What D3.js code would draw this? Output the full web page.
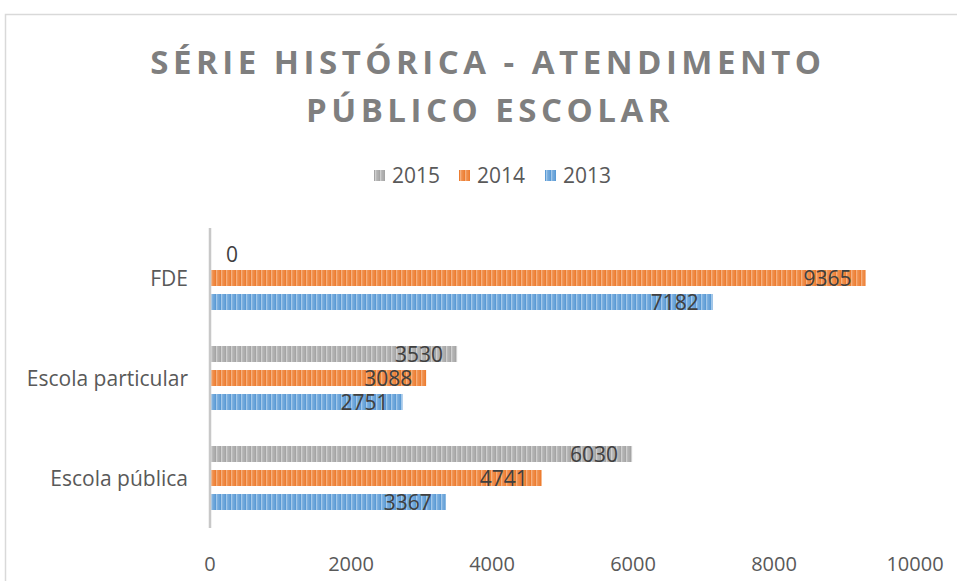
<!DOCTYPE html>
<html>
<head>
<meta charset="utf-8">
<script src="https://cdn.jsdelivr.net/npm/d3@7"></script>
<style>
  body { margin: 0; background: #fff; }
  text { font-family: "Open Sans", sans-serif; }
</style>
</head>
<body>
<div id="chart"></div>
<script>
var categories = ["FDE", "Escola particular", "Escola pública"];
var seriesNames = ["2015", "2014", "2013"];
var values2015 = [0, 3530, 6030];
var values2014 = [9365, 3088, 4741];
var values2013 = [7182, 2751, 3367];
var xTicks = [0, 2000, 4000, 6000, 8000, 10000];

function init(){
    var w = 957, h = 581;
    var seriesValues = {"2015": values2015, "2014": values2014, "2013": values2013};
    var colors = {
        "2015": ["#a5a5a5", "#cfcfcf"],
        "2014": ["#ed7d31", "#f5b07f"],
        "2013": ["#5b9bd5", "#a3c8ea"]
    };

    var svg = d3.select("#chart").append("svg")
        .attr("width", w).attr("height", h);

    var defs = svg.append("defs");
    seriesNames.forEach(function(s, i){
        var p = defs.append("pattern")
            .attr("id", "pat" + i)
            .attr("patternUnits", "userSpaceOnUse")
            .attr("width", 5).attr("height", 10);
        p.append("rect").attr("width", 5).attr("height", 10).attr("fill", colors[s][0]);
        p.append("rect").attr("x", 1).attr("width", 1.5).attr("height", 10).attr("fill", colors[s][1]);
        p.append("rect").attr("x", 3.5).attr("width", 0.8).attr("height", 10).attr("fill", colors[s][1]).attr("opacity", 0.6);
    });

    // frame
    svg.append("path")
        .attr("d", "M5.5,581V14.5H957")
        .attr("fill", "none")
        .attr("stroke", "#d9d9d9")
        .attr("stroke-width", 1.5);

    // title
    var title = svg.append("text")
        .attr("text-anchor", "middle")
        .attr("fill", "#7f7f7f")
        .attr("font-size", 33)
        .attr("font-weight", "bold")
        .attr("letter-spacing", 4.5);
    title.append("tspan").attr("x", 488).attr("y", 74).text("SÉRIE HISTÓRICA - ATENDIMENTO");
    title.append("tspan").attr("x", 490).attr("y", 122).text("PÚBLICO ESCOLAR");

    // legend
    var legendX = [374, 459, 545];
    var legend = svg.selectAll(".legend")
        .data(seriesNames)
        .enter().append("g")
        .attr("transform", function(d, i){ return "translate(" + legendX[i] + ",0)"; });
    legend.append("rect")
        .attr("y", 170).attr("width", 11).attr("height", 11)
        .attr("fill", function(d, i){ return "url(#pat" + i + ")"; });
    legend.append("text")
        .attr("x", 18).attr("y", 183)
        .attr("font-size", 21)
        .attr("fill", "#595959")
        .text(function(d){ return d; });

    var x = d3.scaleLinear().domain([0, 10000]).range([210, 910]);
    var y = d3.scaleBand().domain(categories).range([228, 528]);
    var ySub = d3.scaleBand().domain(seriesNames).range([0, y.bandwidth()])
        .paddingInner(1/3).paddingOuter(0.75);

    // x tick labels
    svg.selectAll(".tick")
        .data(xTicks)
        .enter().append("text")
        .attr("x", function(d){ return x(d) + d / 10000 * 5; })
        .attr("y", 571)
        .attr("text-anchor", "middle")
        .attr("font-size", 20)
        .attr("fill", "#595959")
        .text(function(d){ return d; });

    // category labels
    svg.selectAll(".cat")
        .data(categories)
        .enter().append("text")
        .attr("x", 188)
        .attr("y", function(d){ return y(d) + y.bandwidth() / 2 + 8; })
        .attr("text-anchor", "end")
        .attr("font-size", 21)
        .attr("fill", "#595959")
        .text(function(d){ return d; });

    // bars
    var groups = svg.selectAll(".series")
        .data(seriesNames)
        .enter().append("g")
        .attr("fill", function(d, i){ return "url(#pat" + i + ")"; });

    groups.selectAll("rect")
        .data(function(s){ return categories.map(function(c, j){ return {s: s, c: c, v: seriesValues[s][j]}; }); })
        .enter().append("rect")
        .attr("x", x(0))
        .attr("y", function(d){ return y(d.c) + ySub(d.s); })
        .attr("width", function(d){ return x(d.v) - x(0); })
        .attr("height", ySub.bandwidth());

    groups.selectAll("text")
        .data(function(s){ return categories.map(function(c, j){ return {s: s, c: c, v: seriesValues[s][j]}; }); })
        .enter().append("text")
        .attr("x", function(d){ return d.v === 0 ? x(0) + 16 : x(d.v) - 14; })
        .attr("y", function(d){ return y(d.c) + ySub(d.s) + ySub.bandwidth() / 2 + 7.5; })
        .attr("text-anchor", function(d){ return d.v === 0 ? "start" : "end"; })
        .attr("font-size", 21)
        .attr("fill", "#404040")
        .text(function(d){ return d.v; });

    // axis line
    svg.append("line")
        .attr("x1", x(0)).attr("x2", x(0))
        .attr("y1", y.range()[0]).attr("y2", y.range()[1])
        .attr("stroke", "#c8c8c8")
        .attr("stroke-width", 2.5);
}
window.onload = init;
</script>
</body>
</html>
